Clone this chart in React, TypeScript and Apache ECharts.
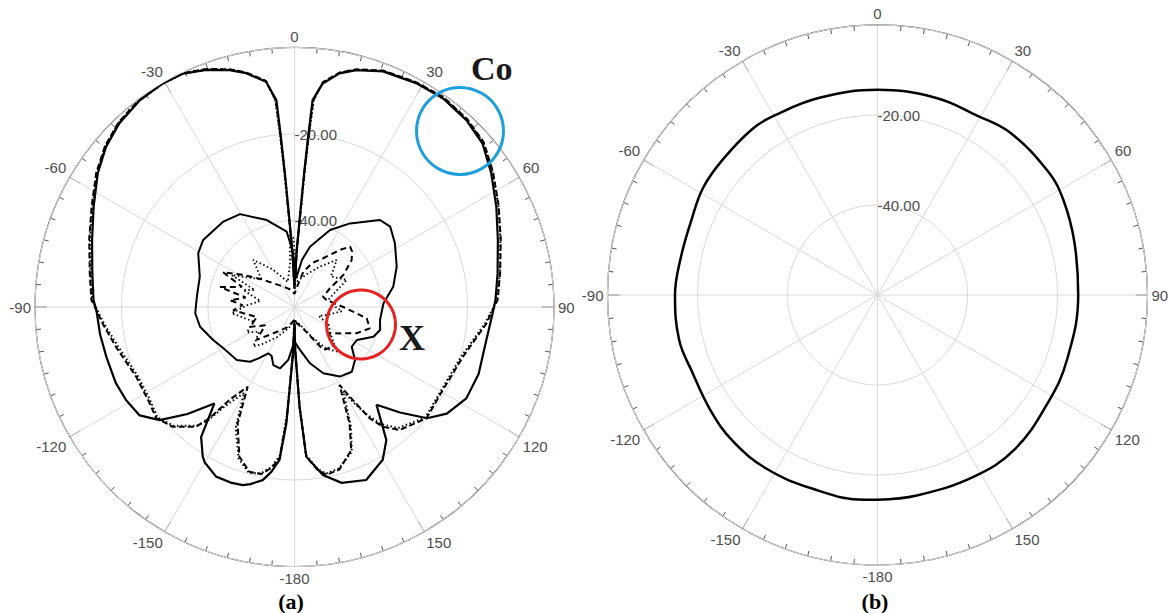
import React, { useEffect, useRef } from "react";
import * as echarts from "echarts";

// ---------- (a) co-polar, solid ----------
const coSolidDeg = [-180, -178, -176, -174.4, -172, -169.6, -166, -163.8, -160, -155.2, -150, -148.5, -144.3, -140.3, -135, -130, -125, -119, -113, -105, -98, -91, -88, -80.5, -71.7, -63.5, -55.8, -49.6, -43.6, -36.8, -30.5, -25.5, -20.4, -15.3, -11.7, -7.2, -5, -4.6, -4.1, -3.4, -2.2, 0, 2.2, 3.4, 4.1, 4.6, 5, 7.2, 10.9, 14.6, 20.6, 28.5, 35.4, 42.6, 49, 55.8, 63.6, 71.8, 80.6, 88, 92, 100, 110, 118, 125, 130, 135, 140, 143, 145.4, 150, 157.5, 165, 170.4, 175.5, 177.1, 179, 180];
const coSolidDb = [-56, -48.5, -33, -24.5, -21.5, -19.3, -17.8, -17.1, -16.8, -16.8, -18.5, -19.4, -23, -31, -25, -19.3, -16.3, -15.5, -15.1, -15, -14.6, -14.2, -13.5, -12.6, -10.7, -8.1, -5, -2.8, -1.3, -0.3, 0, -0.2, -1.5, -3.2, -4.8, -7.5, -12, -20, -29, -39, -47, -55, -47, -39, -29, -20, -12, -7.9, -5, -3.4, -1.8, -1.1, -0.8, -1.3, -2.4, -5, -7.9, -10.5, -12.4, -13.5, -14.2, -15, -14.7, -15, -17, -20, -25.5, -30.5, -26.6, -22.6, -19.2, -16.7, -17.9, -20.6, -25.3, -37, -50, -56];

// ---------- (a) co-polar, dashed ----------
const coDashDeg = [-180, -178, -176, -174.4, -172, -168.7, -164.7, -159.8, -154, -149.6, -145, -142.6, -140.6, -134.5, -128.8, -122.4, -113.8, -102.6, -95, -88, -80.5, -71.7, -63.5, -55.8, -49.6, -43.6, -36.8, -30.5, -25.5, -20.4, -15.3, -11.7, -7.2, -5.2, -4.7, -4.2, -3.5, -2.3, 0, 2.3, 3.5, 4.2, 4.7, 5.2, 7.2, 10.9, 14.6, 20.6, 28.5, 35.4, 42.6, 49, 55.8, 63.6, 71.8, 80.6, 88, 95, 106.5, 119.2, 130.2, 139.5, 143.6, 146, 147.9, 150, 154.7, 158.4, 164.6, 169.3, 172, 175.5, 177.1, 179, 180];
const coDashDb = [-57, -49, -34, -25, -22.5, -20.6, -20.5, -23.1, -30, -38.6, -33.8, -27.6, -24.2, -20.5, -19, -19.9, -20, -17.7, -15.5, -13, -12, -10, -7.6, -4.6, -2.5, -1, -0.1, 0, -0.1, -1.3, -3, -4.6, -7.3, -12, -20, -29, -39, -47, -56, -47, -39, -29, -20, -12, -7.6, -4.8, -3.2, -1.6, -0.9, -0.5, -1, -2, -4.5, -7.3, -9.8, -11.8, -13, -15.5, -19.4, -20.7, -20.1, -22.6, -25.6, -29, -34.6, -39.2, -30.2, -24.4, -21, -20.5, -22, -25.3, -37, -50, -57];

// ---------- (a) co-polar, dotted ----------
const coDotDeg = [-180, -178, -176, -174.4, -172, -168.7, -164.7, -159.8, -154, -149.6, -145, -142.6, -140.6, -134.5, -128.8, -122.4, -113.8, -102.6, -95, -88, -80.5, -71.7, -63.5, -55.8, -49.6, -43.6, -36.8, -30.5, -25.5, -20.4, -15.3, -11.7, -7.2, -5.3, -4.8, -4.3, -3.6, -2.4, 0, 2.4, 3.6, 4.3, 4.8, 5.3, 7.2, 10.9, 14.6, 20.6, 28.5, 35.4, 42.6, 49, 55.8, 63.6, 71.8, 80.6, 88, 95, 106.5, 119.2, 130.2, 139.5, 143.6, 146, 147.9, 150, 154.7, 158.4, 164.6, 169.3, 172, 175.5, 177.1, 179, 180];
const coDotDb = [-57, -49.5, -35, -25.5, -22.8, -20.8, -20.2, -22.6, -29, -37, -32, -27, -24.5, -20.8, -19.3, -20.3, -20.4, -18.2, -15.8, -13.2, -12.2, -10.2, -7.8, -4.8, -2.6, -1.1, -0.2, -0.1, -0.2, -1.4, -3.1, -4.7, -7.4, -12, -20, -29, -39, -47, -56, -47, -39, -29, -20, -12, -7.7, -4.9, -3.3, -1.7, -1, -0.6, -1.1, -2.1, -4.6, -7.4, -9.9, -11.9, -13.1, -15.8, -19.8, -21, -20.4, -23.2, -26.4, -30, -33.2, -37.5, -29.5, -24, -21.3, -20.8, -22.3, -25.6, -37, -50, -57];

// ---------- (a) cross-polar, solid ----------
const xSolidDeg = [-180, -173.3, -166.7, -160, -155, -150.5, -145, -140.9, -132.5, -120.1, -112.1, -101.8, -93.6, -84, -72.2, -60.8, -53.7, -39.8, -30.4, -17.7, -5.9, -2, 0, 4.1, 9, 14.4, 24.8, 33.6, 44.5, 50, 57.6, 68.5, 78.4, 87.6, 98.6, 105, 110.6, 117.9, 124.8, 131.2, 138.5, 146.9, 156.5, 164.6, 172.7, 180];
const xSolidDb = [-52, -47.7, -45.4, -45.7, -47.5, -47.7, -45.5, -43.7, -41.9, -41, -39.7, -37.7, -37, -37.3, -37, -34.5, -33.8, -34.3, -35.1, -38.9, -42.5, -47, -50, -53, -49, -45.6, -40.4, -36.8, -31.8, -31.1, -32.5, -34.6, -36.7, -39.4, -40, -39.5, -40.5, -43.7, -43.9, -41.4, -40, -40.8, -43.3, -46.5, -50, -52];

// ---------- (a) cross-polar, dashed ----------
const xDashDeg = [-180, -160, -145, -131, -122, -114, -105, -93, -88, -84, -79, -75, -69, -64, -58, -50, -40, -25, -10, 0, 8, 14, 22, 30.6, 38.6, 42.6, 46, 50.6, 56.7, 62.2, 70, 77.7, 84, 90, 98.9, 105.8, 112.9, 120, 127, 135.7, 146, 160, 170, 180];
const xDashDb = [-57, -55, -53, -48.4, -52, -48.7, -51, -45.8, -48, -45, -48.5, -42.2, -47, -41.6, -46, -50, -53, -55, -56, -57, -55, -51.6, -49, -46.9, -43.1, -41, -41.5, -42.9, -46.5, -50.7, -53, -52.4, -51, -48.7, -43.1, -41.9, -44.4, -47.8, -50, -47.2, -48, -55, -56, -57];

// ---------- (a) cross-polar, dotted ----------
const xDotDeg = [-180, -165, -150, -140, -133.9, -125, -118, -110, -102, -95.7, -88, -80, -71.6, -67, -63, -56, -50, -41.2, -30, -15, -6, -3.5, -1, 2, 6, 20, 32, 41.9, 50, 56, 62.6, 70, 78, 84.5, 90, 95, 103, 110, 118, 125, 136.6, 143, 150, 165, 180];
const xDotDb = [-57, -55, -52, -49, -46.8, -50, -47.5, -50, -48, -45.4, -49, -52, -47.5, -50, -43.7, -48, -50, -45.5, -50, -54, -50, -42.9, -44, -50, -54, -52, -49, -45.4, -49, -48, -46.4, -50, -52, -51, -50.5, -49, -52, -54, -51, -50, -45.8, -48, -52, -56, -57];

// ---------- (b) pattern ----------
const bDeg = [-180, -176.4, -161.3, -147.6, -135.5, -124.7, -112.4, -102.8, -90, -79.4, -67.7, -58.4, -49.1, -37.1, -29.8, -16.4, 0, 16.4, 29, 39.4, 54.2, 62.8, 75, 90, 108.8, 122.2, 138.5, 152.2, 168.9, 180];
const bDb = [-14.5, -14.4, -14.6, -14.2, -14.3, -14.9, -15.4, -14.8, -15, -15.5, -15.4, -14.5, -14.3, -13.8, -14, -14.3, -14.4, -14.3, -14.4, -13.4, -13.2, -13.6, -14.7, -15.4, -15.5, -15.2, -14.1, -14.3, -14.6, -14.5];

// ---------- axes ----------
const radiusMin = -60;
const radiusMax = 0;
const radiusStep = 20;
const radiusLabelled = [-20, -40];
const angleStep = 30;

const toAxis = (d: number) => ((d % 360) + 360) % 360;
const pts = (deg: number[], db: number[]) => deg.map((a, i) => [db[i], toAxis(a)]);

const angleLabel = (v: number) => {
  if (v >= 360) return "";
  if (v === 180) return "-180";
  return v > 180 ? String(v - 360) : String(v);
};

const FONT = '"Liberation Sans", Arial, Helvetica, sans-serif';
const SERIF = '"Liberation Serif", "Times New Roman", serif';

function angleAxisCfg(polarIndex: number) {
  return {
    polarIndex,
    type: "value",
    min: 0,
    max: 360,
    interval: angleStep,
    startAngle: 90,
    clockwise: true,
    axisLine: { show: true, lineStyle: { color: "#555", width: 1.2 } },
    axisTick: { show: true, inside: true, length: 12, lineStyle: { color: "#555", width: 1 } },
    minorTick: { show: true, splitNumber: 6, length: 5, lineStyle: { color: "#555", width: 1 } },
    axisLabel: {
      show: true,
      margin: 4,
      color: "#4d4d4d",
      fontSize: 15,
      fontFamily: FONT,
      formatter: angleLabel,
    },
    splitLine: { show: true, lineStyle: { color: "#dadada", width: 1 } },
  };
}

function radiusAxisCfg(polarIndex: number) {
  return {
    polarIndex,
    type: "value",
    min: radiusMin,
    max: radiusMax,
    interval: radiusStep,
    axisLine: { show: false },
    axisTick: { show: false },
    axisLabel: {
      show: true,
      margin: 0,
      align: "left",
      verticalAlign: "middle",
      padding: [0, 0, 6, 0],
      color: "#4d4d4d",
      fontSize: 15,
      fontFamily: FONT,
      formatter: (v: number) => (radiusLabelled.includes(v) ? v.toFixed(2) : ""),
    },
    splitLine: { show: true, lineStyle: { color: "#dadada", width: 1 } },
    z: 1,
  };
}

function lineSeries(polarIndex: number, data: number[][], type: any, width: number, z: number, smooth = false as any) {
  return {
    type: "line",
    coordinateSystem: "polar",
    polarIndex,
    data,
    showSymbol: false,
    symbol: "none",
    silent: true,
    smooth,
    z,
    lineStyle: { color: "#000", width, type },
  };
}

export default function App() {
  const ref = useRef<HTMLDivElement>(null);
  useEffect(() => {
    if (!ref.current) return;
    const chart = echarts.init(ref.current, null, { renderer: "svg" });
    chart.setOption({
      animation: false,
      backgroundColor: "#fff",
      textStyle: { fontFamily: FONT },
      polar: [
        { center: [294.5, 307], radius: 259.5 },
        { center: [877.5, 295], radius: 270 },
      ],
      angleAxis: [angleAxisCfg(0), angleAxisCfg(1)],
      radiusAxis: [radiusAxisCfg(0), radiusAxisCfg(1)],
      series: [
        lineSeries(0, pts(xDotDeg, xDotDb), [1.5, 2.5], 1.8, 3),
        lineSeries(0, pts(xDashDeg, xDashDb), [6, 4], 2, 3),
        lineSeries(0, pts(xSolidDeg, xSolidDb), "solid", 2, 4),
        lineSeries(0, pts(coDotDeg, coDotDb), [1.5, 2.5], 2, 5),
        lineSeries(0, pts(coDashDeg, coDashDb), [6, 3], 2, 5),
        lineSeries(0, pts(coSolidDeg, coSolidDb), "solid", 2.2, 6),
        lineSeries(1, pts(bDeg, bDb), "solid", 2.5, 6, 0.4),
      ],
      graphic: [
        {
          type: "circle",
          shape: { cx: 460, cy: 131, r: 43.5 },
          style: { fill: "none", stroke: "#1e9fdc", lineWidth: 3 },
          z: 100,
        },
        {
          type: "circle",
          shape: { cx: 361, cy: 324.5, r: 34.5 },
          style: { fill: "none", stroke: "#e42424", lineWidth: 3 },
          z: 100,
        },
        {
          type: "text",
          x: 471,
          y: 68.5,
          style: { text: "Co", fontSize: 34, fontWeight: "bold", fontFamily: SERIF, fill: "#1a1a1a", align: "left", verticalAlign: "middle" },
          z: 100,
        },
        {
          type: "text",
          x: 399,
          y: 338,
          style: { text: "X", fontSize: 36, fontWeight: "bold", fontFamily: SERIF, fill: "#1a1a1a", align: "left", verticalAlign: "middle" },
          z: 100,
        },
        {
          type: "text",
          x: 291,
          y: 601,
          style: { text: "(a)", fontSize: 22, fontWeight: "bold", fontFamily: SERIF, fill: "#000", align: "center", verticalAlign: "middle" },
          z: 100,
        },
        {
          type: "text",
          x: 875,
          y: 601,
          style: { text: "(b)", fontSize: 22, fontWeight: "bold", fontFamily: SERIF, fill: "#000", align: "center", verticalAlign: "middle" },
          z: 100,
        },
      ],
    });
    return () => chart.dispose();
  }, []);
  return (
    <div
      ref={ref}
      style={{ position: "fixed", left: 0, top: 0, width: 1168, height: 613, background: "#fff" }}
    />
  );
}
